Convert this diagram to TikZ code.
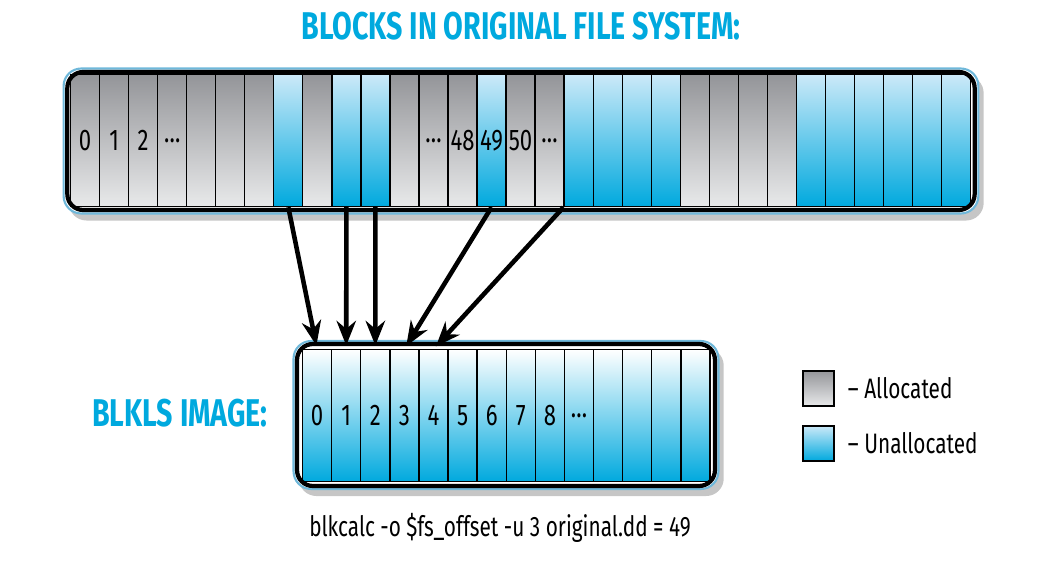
\documentclass[tikz,border=0pt]{standalone}
\usepackage{fontspec}
\setmainfont[FakeStretch=0.74]{Fira Sans}
\usetikzlibrary{positioning,arrows.meta,shadows}

\definecolor{hiblue}{HTML}{00A9DE}
\definecolor{loblue}{HTML}{CBE9F8}
\definecolor{higray}{HTML}{949599}
\definecolor{logray}{HTML}{E8E9EA}
\definecolor{edgeblue}{HTML}{6FB8DA}

\tikzset{
  frame/.style={rounded corners=9pt, draw=black, line width=2.4pt, inner sep=0},
  shell/.style={rounded corners=10pt, draw=edgeblue, line width=1.2pt, fill=white,
    drop shadow={shadow xshift=3pt, shadow yshift=-4pt, opacity=0.45}, inner sep=0},
  cell/.style={draw=black, line width=0.7pt, inner sep=0, anchor=north west,
    minimum width=0.58cm, font=\fontsize{17}{17}\selectfont},
  alloc/.style={cell, top color=higray, bottom color=logray},
  free/.style={cell, top color=loblue, bottom color=hiblue},
  image/.style={cell, top color=white, bottom color=hiblue},
  link/.style={line width=2.6pt, -{Stealth[length=14pt,width=11pt]}, shorten >=2pt},
  heading/.style={text=hiblue, font=\fontsize{22}{22}\selectfont\bfseries}
}

\begin{document}
\begin{tikzpicture}[x=0.02cm, y=-0.02cm]
\useasboundingbox (0,0) rectangle (1063,568);

\node[heading] (title) at (521,26) {BLOCKS IN ORIGINAL FILE SYSTEM:};

% original file system
\node[shell, minimum width=18.3cm, minimum height=2.9cm] (topshell) at (521,141) {};
\foreach \k/\kind/\txt in {0/alloc/0,1/alloc/1,2/alloc/2,3/alloc/\dots,4/alloc/,5/alloc/,6/alloc/,
    7/free/,8/alloc/,9/free/,10/free/,11/alloc/,12/alloc/\dots,13/alloc/48,14/free/49,15/alloc/50,
    16/alloc/\dots,17/free/,18/free/,19/free/,20/free/,21/alloc/,22/alloc/,23/alloc/,24/alloc/,
    25/free/,26/free/,27/free/,28/free/,29/free/,30/free/}
  \node[\kind, minimum height=2.64cm] (t\k) at (70+29.03*\k,74) {\txt};
\node[frame, minimum width=18.15cm, minimum height=2.76cm] (topbar) at (521,141) {};

% blkls image
\node[shell, minimum width=8.5cm, minimum height=2.96cm] (botshell) at (506,415) {};
\foreach \k/\txt in {0/0,1/1,2/2,3/3,4/4,5/5,6/6,7/7,8/8,9/\dots,10/,11/,12/,13/}
  \node[image, minimum height=2.64cm] (b\k) at (302+29.1*\k,349) {\txt};
\node[frame, minimum width=8.36cm, minimum height=2.84cm] (botbar) at (506,415) {};

\node[heading] (imglabel) at (180,413) {BLKLS IMAGE:};

% mapping of unallocated blocks
\draw[link] (t7.south) -- (b0.north);
\draw[link] (t9.south) -- (b1.north);
\draw[link] (t10.south) -- (b2.north);
\draw[link] (t14.south) -- (b3.north);
\draw[link] (t17.south west) -- (b4.north);

% legend
\node[alloc, draw=black, line width=1pt, minimum width=0.62cm, minimum height=0.7cm] (keya) at (802,370) {};
\node[free, draw=black, line width=1pt, minimum width=0.62cm, minimum height=0.7cm] (keyb) at (802,425) {};
\node[right=4pt of keya, font=\fontsize{16}{16}\selectfont] (keyatxt) {-- Allocated};
\node[right=4pt of keyb, font=\fontsize{16}{16}\selectfont] (keybtxt) {-- Unallocated};

\node[font=\fontsize{16}{16}\selectfont] (cmd) at (500,528) {blkcalc -o \$fs\_offset -u 3 original.dd = 49};
\end{tikzpicture}
\end{document}
